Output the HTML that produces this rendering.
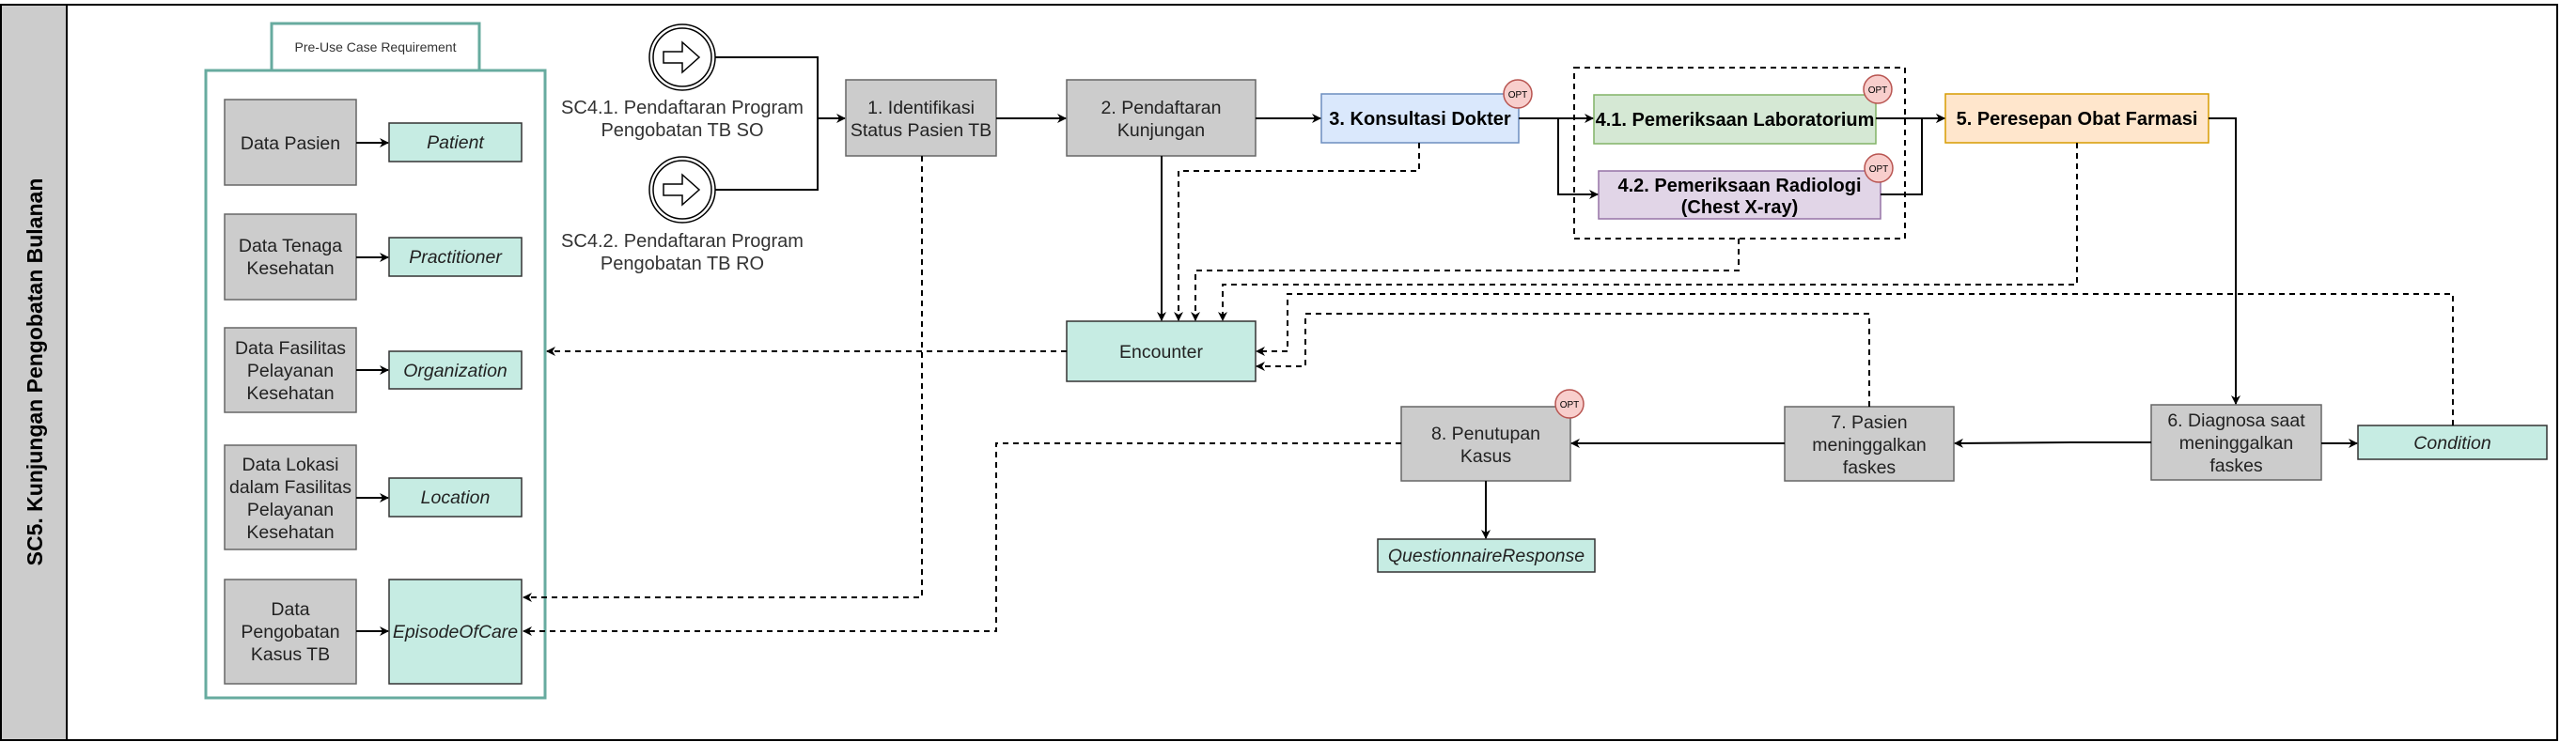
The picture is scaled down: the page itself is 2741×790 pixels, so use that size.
<!DOCTYPE html>
<html><head><meta charset="utf-8"><style>
html,body{margin:0;padding:0;background:#fff;}
svg{display:block;}
text{font-family:"Liberation Sans",Arial,sans-serif;}
</style></head><body>
<svg width="2741" height="790" viewBox="0 0 2741 790" xmlns="http://www.w3.org/2000/svg">
<defs>
<marker id="a" markerWidth="12" markerHeight="12" refX="10" refY="6" orient="auto" markerUnits="userSpaceOnUse">
<path d="M1,1 L11,6 L1,11 L4,6 Z" fill="#000"/>
</marker>
</defs>
<rect x="1" y="5" width="2720" height="783" fill="#fff" stroke="#000" stroke-width="2"/>
<rect x="1" y="5" width="70" height="783" fill="#cccccc" stroke="#000" stroke-width="2"/>
<text transform="translate(45,396) rotate(-90)" text-anchor="middle" font-size="23" font-weight="bold" fill="#000">SC5. Kunjungan Pengobatan Bulanan</text>

<rect x="289" y="25" width="221" height="50" fill="#fff" stroke="#67ab9f" stroke-width="3"/>
<text x="399.5" y="55" text-anchor="middle" font-size="14" fill="#333">Pre-Use Case Requirement</text>
<rect x="219" y="75" width="361" height="668" fill="#fff" stroke="#67ab9f" stroke-width="3"/>

<g stroke="#666" stroke-width="1.5" fill="#cccccc">
<rect x="239" y="106" width="140" height="91"/>
<rect x="239" y="228" width="140" height="91"/>
<rect x="239" y="349" width="140" height="90"/>
<rect x="239" y="474" width="140" height="111"/>
<rect x="239" y="617" width="140" height="111"/>
</g>
<g stroke="#333" stroke-width="1.5" fill="#c6ece3">
<rect x="414" y="131" width="141" height="41"/>
<rect x="414" y="253" width="141" height="41"/>
<rect x="414" y="374" width="141" height="40"/>
<rect x="414" y="509" width="141" height="41"/>
<rect x="414" y="617" width="141" height="111"/>
</g>
<g font-size="19.5" fill="#222" text-anchor="middle">
<text x="309" y="159">Data Pasien</text>
<text x="309" y="268">Data Tenaga</text><text x="309" y="292">Kesehatan</text>
<text x="309" y="377">Data Fasilitas</text><text x="309" y="401">Pelayanan</text><text x="309" y="425">Kesehatan</text>
<text x="309" y="501">Data Lokasi</text><text x="309" y="525">dalam Fasilitas</text><text x="309" y="549">Pelayanan</text><text x="309" y="573">Kesehatan</text>
<text x="309" y="655">Data</text><text x="309" y="679">Pengobatan</text><text x="309" y="703">Kasus TB</text>
</g>
<g font-size="19.5" font-style="italic" fill="#222" text-anchor="middle">
<text x="484.5" y="158">Patient</text>
<text x="484.5" y="280">Practitioner</text>
<text x="484.5" y="401">Organization</text>
<text x="484.5" y="536">Location</text>
<text x="484.5" y="679">EpisodeOfCare</text>
</g>
<g stroke="#000" stroke-width="2" fill="none" marker-end="url(#a)">
<line x1="379" y1="152" x2="413" y2="152"/>
<line x1="379" y1="274" x2="413" y2="274"/>
<line x1="379" y1="394" x2="413" y2="394"/>
<line x1="379" y1="530" x2="413" y2="530"/>
<line x1="379" y1="672" x2="413" y2="672"/>
</g>

<g stroke="#000" stroke-width="1.5" fill="#fff">
<circle cx="726" cy="61" r="35"/><circle cx="726" cy="61" r="31"/>
<circle cx="726" cy="202" r="35"/><circle cx="726" cy="202" r="31"/>
<path d="M706,55 L726,55 L726,45 L744,61 L726,77 L726,67 L706,67 Z" fill="#fff"/>
<path d="M706,196 L726,196 L726,186 L744,202 L726,218 L726,208 L706,208 Z" fill="#fff"/>
</g>
<g font-size="20" fill="#333" text-anchor="middle">
<text x="726" y="121">SC4.1. Pendaftaran Program</text><text x="726" y="145">Pengobatan TB SO</text>
<text x="726" y="263">SC4.2. Pendaftaran Program</text><text x="726" y="287">Pengobatan TB RO</text>
</g>
<path d="M761,61 H870 V202 H761" stroke="#000" stroke-width="2" fill="none"/>
<line x1="870" y1="126" x2="899" y2="126" stroke="#000" stroke-width="2" marker-end="url(#a)"/>

<g stroke="#666" stroke-width="1.5" fill="#cccccc">
<rect x="900" y="85" width="160" height="81"/>
<rect x="1135" y="85" width="201" height="81"/>
<rect x="1491" y="433" width="180" height="79"/>
<rect x="1899" y="433" width="180" height="79"/>
<rect x="2289" y="431" width="181" height="80"/>
</g>
<rect x="1406" y="100" width="210" height="52" fill="#dae8fc" stroke="#6c8ebf" stroke-width="1.5"/>
<rect x="1675" y="72" width="352" height="182" fill="none" stroke="#000" stroke-width="2" stroke-dasharray="6,5"/>
<rect x="1696" y="101" width="300" height="52" fill="#d5e8d4" stroke="#82b366" stroke-width="1.5"/>
<rect x="1701" y="182" width="300" height="51" fill="#e1d5e7" stroke="#9673a6" stroke-width="1.5"/>
<rect x="2070" y="100" width="280" height="52" fill="#ffe6cc" stroke="#d79b00" stroke-width="1.5"/>
<g stroke="#333" stroke-width="1.5" fill="#c6ece3">
<rect x="1135" y="342" width="201" height="64"/>
<rect x="1466" y="574" width="231" height="35"/>
<rect x="2509" y="453" width="201" height="36"/>
</g>
<g font-size="19.5" fill="#222" text-anchor="middle">
<text x="980" y="121">1. Identifikasi</text><text x="980" y="145">Status Pasien TB</text>
<text x="1235.5" y="121">2. Pendaftaran</text><text x="1235.5" y="145">Kunjungan</text>
<text x="1235.5" y="381">Encounter</text>
<text x="1581" y="468">8. Penutupan</text><text x="1581" y="492">Kasus</text>
<text x="1989" y="456">7. Pasien</text><text x="1989" y="480">meninggalkan</text><text x="1989" y="504">faskes</text>
<text x="2379.5" y="454">6. Diagnosa saat</text><text x="2379.5" y="478">meninggalkan</text><text x="2379.5" y="502">faskes</text>
</g>
<g font-size="19.5" font-style="italic" fill="#222" text-anchor="middle">
<text x="1581.5" y="598">QuestionnaireResponse</text>
<text x="2609.5" y="478">Condition</text>
</g>
<g font-size="20" font-weight="bold" fill="#000" text-anchor="middle">
<text x="1511" y="133">3. Konsultasi Dokter</text>
<text x="1846" y="134">4.1. Pemeriksaan Laboratorium</text>
<text x="1851" y="204">4.2. Pemeriksaan Radiologi</text><text x="1851" y="227">(Chest X-ray)</text>
<text x="2210" y="133">5. Peresepan Obat Farmasi</text>
</g>
<g fill="#f8cecc" stroke="#b85450" stroke-width="1.5">
<circle cx="1615" cy="100" r="15"/><circle cx="1998" cy="95" r="15"/><circle cx="1999" cy="179" r="15"/><circle cx="1670" cy="430" r="15"/>
</g>
<g font-size="10" fill="#000" text-anchor="middle">
<text x="1615" y="104">OPT</text><text x="1998" y="99">OPT</text><text x="1999" y="183">OPT</text><text x="1670" y="434">OPT</text>
</g>

<g stroke="#000" stroke-width="2" fill="none" marker-end="url(#a)">
<line x1="1060" y1="126" x2="1134" y2="126"/>
<line x1="1336" y1="126" x2="1405" y2="126"/>
<path d="M1616,126 H1695"/>
<path d="M1658,126 V207 H1700"/>
<path d="M1996,126 H2069"/>
<path d="M2001,207 H2045 V126 H2069"/>
<path d="M2350,126 H2379 V430"/>
<path d="M2289,471 H2204 L2080,472"/>
<path d="M2470,472 H2508"/>
<path d="M1899,472 H1672"/>
<path d="M1581,512 V573"/>
<path d="M1236,166 V341"/>
</g>
<g stroke="#000" stroke-width="2" fill="none" stroke-dasharray="6,5" marker-end="url(#a)">
<path d="M1135,374 H582"/>
<path d="M981,166 V636 H557"/>
<path d="M1491,472 H1060 V672 H557"/>
<path d="M1510,152 V182 H1254 V341"/>
<path d="M1850,254 V288 H1272 V341"/>
<path d="M2210,152 V303 H1301 V341"/>
<path d="M2610,453 V313 H1370 V374 H1337"/>
<path d="M1989,433 V334 H1389 V390 H1337"/>
</g>
</svg>
</body></html>
